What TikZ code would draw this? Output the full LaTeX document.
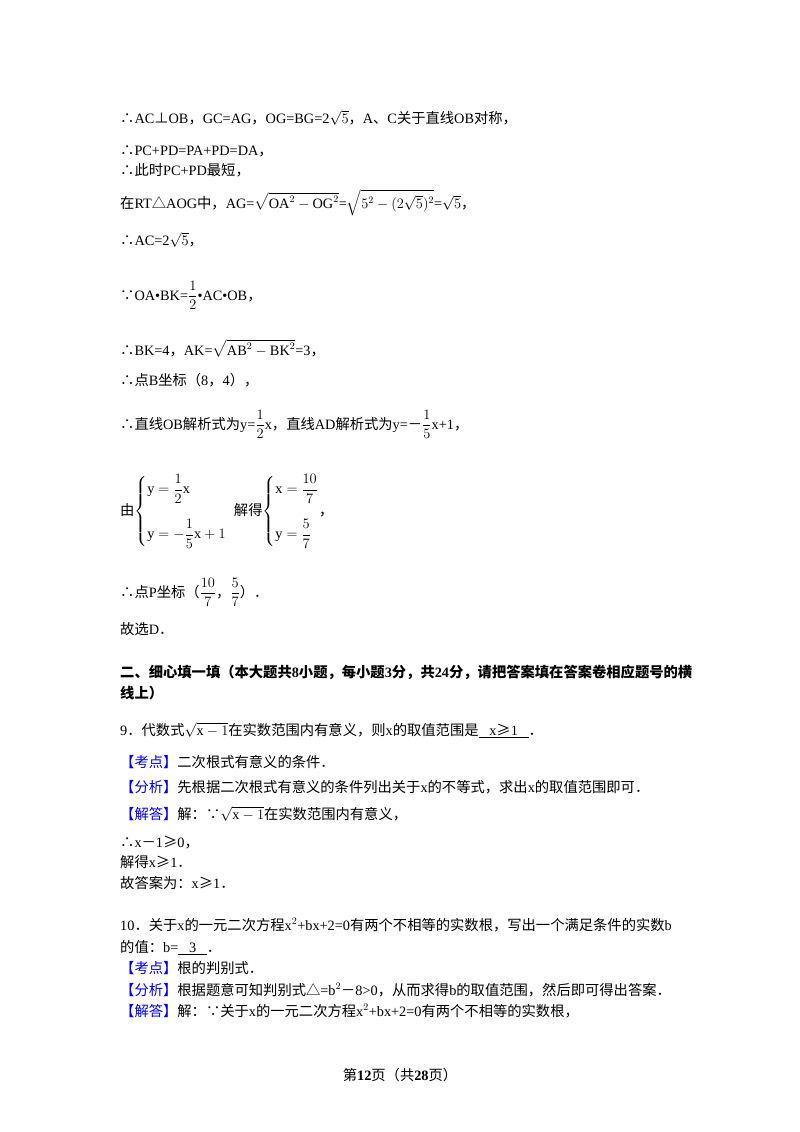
\documentclass[tikz,border=0pt]{standalone}
\usepackage{amsmath}
\usepackage{fontspec}
\setmainfont{Liberation Serif}
\newfontfamily\latinfont{Liberation Serif}
\newfontfamily\cjk{Noto Sans CJK SC}
\XeTeXinterchartokenstate=1
\newXeTeXintercharclass\cjkclass
\count255="4E00
\loop\XeTeXcharclass\count255=\cjkclass\ifnum\count255<"9FFF\advance\count255 1 \repeat
\count255="3000
\loop\XeTeXcharclass\count255=\cjkclass\ifnum\count255<"303F\advance\count255 1 \repeat
\count255="FF00
\loop\XeTeXcharclass\count255=\cjkclass\ifnum\count255<"FFEF\advance\count255 1 \repeat
\XeTeXcharclass`∴=\cjkclass \XeTeXcharclass`∵=\cjkclass \XeTeXcharclass`△=\cjkclass
\XeTeXcharclass`⊥=\cjkclass \XeTeXcharclass`≥=\cjkclass \XeTeXcharclass`、=\cjkclass
\XeTeXinterchartoks 0 \cjkclass = {\cjk}
\XeTeXinterchartoks 4095 \cjkclass = {\cjk}
\XeTeXinterchartoks \cjkclass 0 = {\latinfont}
\XeTeXinterchartoks \cjkclass 4095 = {\latinfont}
\definecolor{kblue}{RGB}{0,0,230}
\newcommand{\kd}[1]{{\color{kblue}【#1】}}
\begin{document}
\begin{tikzpicture}[x=1pt,y=-1pt,every node/.style={anchor=base west,inner sep=0pt,font=\fontsize{14.3}{16}\selectfont}]
\useasboundingbox (0,0) rectangle (800,1132);
\node (l1) at (120,123) {∴AC⊥OB，GC=AG，OG=BG=2$\sqrt{5}$，A、C关于直线OB对称，};
\node (l2) at (120,155) {∴PC+PD=PA+PD=DA，};
\node (l3) at (120,175) {∴此时PC+PD最短，};
\node (l4) at (120,208) {在RT△AOG中，AG=$\sqrt{\mathrm{OA}^2-\mathrm{OG}^2}$=$\sqrt{5^2-(2\sqrt{5})^2}$=$\sqrt{5}$，};
\node (l5) at (120,245) {∴AC=2$\sqrt{5}$，};
\node (l6) at (120,300) {∵OA•BK=$\dfrac{1}{2}$•AC•OB，};
\node (l7) at (120,355) {∴BK=4，AK=$\sqrt{\mathrm{AB}^2-\mathrm{BK}^2}$=3，};
\node (l8) at (120,385) {∴点B坐标（8，4），};
\node (l9) at (120,429) {∴直线OB解析式为y=$\dfrac{1}{2}$x，直线AD解析式为y=－$\dfrac{1}{5}$x+1，};
\node (l10) at (120,515) {由$\left\{\begin{aligned}&\mathrm{y}=\dfrac{1}{2}\mathrm{x}\\[12pt]&\mathrm{y}=-\dfrac{1}{5}\mathrm{x}+1\end{aligned}\right.$ \ 解得$\left\{\begin{aligned}&\mathrm{x}=\dfrac{10}{7}\\[12pt]&\mathrm{y}=\dfrac{5}{7}\end{aligned}\right.$，};
\node (l11) at (120,597) {∴点P坐标（$\dfrac{10}{7}$，$\dfrac{5}{7}$）．};
\node (l12) at (120,634) {故选D．};
\node (l13) at (120,677) {\bfseries 二、细心填一填（本大题共8小题，每小题3分，共24分，请把答案填在答案卷相应题号的横};
\node (l14) at (120,698) {\bfseries 线上）};
\node (l15) at (120,735) {9．代数式$\sqrt{\mathrm{x}-1}$在实数范围内有意义，则x的取值范围是\underline{\ \ \ x≥1\ \ \ }．};
\node (l16) at (120,767) {\kd{考点}二次根式有意义的条件．};
\node (l17) at (120,792) {\kd{分析}先根据二次根式有意义的条件列出关于x的不等式，求出x的取值范围即可．};
\node (l18) at (120,819) {\kd{解答}解：∵$\sqrt{\mathrm{x}-1}$在实数范围内有意义，};
\node (l19) at (120,847) {∴x－1≥0，};
\node (l20) at (120,867) {解得x≥1．};
\node (l21) at (120,888) {故答案为：x≥1．};
\node (l22) at (120,930) {10．关于x的一元二次方程x$^2$+bx+2=0有两个不相等的实数根，写出一个满足条件的实数b};
\node (l23) at (120,952) {的值：b=\underline{\ \ \ 3\ \ \ }．};
\node (l24) at (120,973) {\kd{考点}根的判别式．};
\node (l25) at (120,995) {\kd{分析}根据题意可知判别式△=b$^2$－8>0，从而求得b的取值范围，然后即可得出答案．};
\node (l26) at (120,1016) {\kd{解答}解：∵关于x的一元二次方程x$^2$+bx+2=0有两个不相等的实数根，};
\node[anchor=base] (l27) at (400,1080) {第\textbf{12}页（共\textbf{28}页）};
\end{tikzpicture}
\end{document}
